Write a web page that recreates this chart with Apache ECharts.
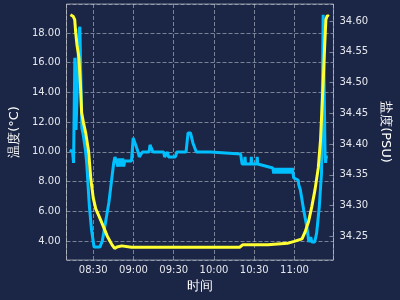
<!DOCTYPE html>
<html><head><meta charset="utf-8">
<script src="https://cdn.jsdelivr.net/npm/echarts@6/dist/echarts.min.js"></script>
<style>html,body{margin:0;padding:0;background:#1b2646;}#c{width:400px;height:300px;}</style>
</head><body><div id="c"></div>
<script>
const tempTimes = ['08:13:01','08:14:58','08:16:12','08:16:56','08:17:52','08:19:20','08:20:25','08:21:22','08:22:44','08:24:25','08:26:35','08:28:16','08:30:00','08:31:53','08:34:13','08:36:45','08:40:23','08:44:01','08:45:58','08:47:38','08:51:16','08:58:32','09:20:19','09:49:22','10:19:08','10:21:19','10:40:11','10:54:42','10:59:47','11:05:35','11:07:59','11:10:28','11:12:52','11:15:15','11:17:43','11:19:23','11:21:21','11:22:31','11:23:23','11:24:28','11:25:34'];
const tempValues = [19.23,19.13,18.90,18.02,17.21,16.34,14.65,12.63,11.96,11.26,10.00,8.12,6.90,6.16,5.69,5.15,4.34,3.74,3.50,3.60,3.67,3.58,3.58,3.58,3.58,3.74,3.74,3.84,3.97,4.14,4.63,5.31,6.30,7.44,8.92,10.81,14.65,17.21,18.90,19.17,19.10];
const salTimes = ['08:12:34','08:14:37','08:15:20','08:15:50','08:16:17','08:16:47','08:17:09','08:18:14','08:19:28','08:20:03','08:20:38','08:21:31','08:22:35','08:24:11','08:25:08','08:27:06','08:28:46','08:30:35','08:34:56','08:36:45','08:41:37','08:45:15','08:46:11',
 '08:47:38','08:48:22','08:49:05','08:49:49','08:50:33','08:51:16','08:52:00','08:52:44','08:53:27',
 '08:58:32','08:59:46','09:01:05','09:02:10','09:03:24','09:04:20','09:05:47','09:06:40','09:11:36','09:12:20','09:13:47','09:14:31','09:22:29','09:23:13','09:24:40','09:25:24','09:26:07','09:31:13','09:32:18','09:39:11','09:40:39','09:42:28','09:44:17','09:46:49','09:57:21','09:58:04','10:19:51','10:20:56','10:22:46','10:23:07','10:23:29','10:27:29','10:27:50','10:28:12','10:31:50','10:32:12','10:32:34',
 '10:43:49','10:44:32','10:45:16','10:45:59','10:46:43','10:47:27','10:48:10','10:48:54','10:49:37','10:50:21','10:51:05','10:51:48','10:52:32','10:53:15','10:53:59','10:54:43','10:55:26','10:56:10','10:56:53','10:57:37','10:58:21',
 '10:59:25','11:02:41','11:03:12','11:04:22','11:06:50','11:09:13','11:10:41','11:12:08','11:12:52','11:15:02','11:16:29','11:18:27','11:20:07','11:21:21','11:21:56','11:22:48','11:23:10','11:23:28','11:24:50'];
const salValues = [34.3904,34.3871,34.3692,34.3692,34.5402,34.5370,34.4230,34.4262,34.5858,34.5907,34.5207,34.4262,34.4148,34.3904,34.3692,34.2992,34.2601,34.2324,34.2324,34.2422,34.3041,34.3692,34.3790,
 34.3765,34.3635,34.3765,34.3635,34.3765,34.3635,34.3765,34.3635,34.3725,
 34.3725,34.4099,34.4067,34.3953,34.3871,34.3790,34.3790,34.3871,34.3871,34.3985,34.3985,34.3871,34.3871,34.3790,34.3790,34.3871,34.3790,34.3790,34.3871,34.3871,34.4181,34.4181,34.4018,34.3871,34.3871,34.3839,34.3839,34.3676,34.3676,34.3790,34.3676,34.3676,34.3790,34.3676,34.3676,34.3790,34.3676,
 34.3611,34.3521,34.3611,34.3521,34.3611,34.3521,34.3611,34.3521,34.3611,34.3521,34.3611,34.3521,34.3611,34.3521,34.3611,34.3521,34.3611,34.3521,34.3611,34.3521,34.3611,
 34.3448,34.3415,34.3334,34.3252,34.2927,34.2650,34.2406,34.2487,34.2406,34.2406,34.2552,34.2976,34.3529,34.6103,34.6103,34.3790,34.3692,34.3790,34.3790];
const xRange = ['08:10:06','11:29:02'];
const tempRange = [2.72, 19.95];
const salRange = [34.2114, 34.6277];

function toMin(s){const p=s.split(':').map(Number);return p[0]*60+p[1]+(p[2]||0)/60;}
function fmtHM(v){const h=Math.floor(v/60), m=Math.round(v-h*60);return String(h).padStart(2,'0')+':'+String(m).padStart(2,'0');}

const chart = echarts.init(document.getElementById('c'), null, {renderer:'canvas'});
const gridCol = 'rgba(200,205,215,0.55)';
const labelCol = '#e6e8ee';
chart.setOption({
  backgroundColor:'#1b2646',
  animation:false,
  textStyle:{fontFamily:'DejaVu Sans'},
  grid:{left:63,right:63,top:4,bottom:40,show:true,borderColor:'#8a8f9c',borderWidth:1,backgroundColor:'transparent'},
  xAxis:{type:'value',min:toMin(xRange[0]),max:toMin(xRange[1]),splitNumber:6,
    name:'时间',nameLocation:'middle',nameGap:20,nameTextStyle:{color:'#ffffff',fontSize:13},
    axisLine:{show:false},axisTick:{show:false},
    axisLabel:{color:labelCol,fontSize:10,margin:5,showMinLabel:false,showMaxLabel:false,formatter:fmtHM},
    splitLine:{show:true,lineStyle:{color:gridCol,type:'dashed',width:1}}},
  yAxis:[
    {type:'value',min:tempRange[0],max:tempRange[1],splitNumber:8,position:'left',
     name:'温度(°C)',nameLocation:'middle',nameGap:35,nameTextStyle:{color:'#ffffff',fontSize:13},
     axisLine:{show:false},axisTick:{show:false},
     axisLabel:{color:labelCol,fontSize:10,margin:6,showMinLabel:false,showMaxLabel:false,formatter:v=>v.toFixed(2)},
     splitLine:{show:true,lineStyle:{color:gridCol,type:'dashed',width:1}}},
    {type:'value',min:salRange[0],max:salRange[1],splitNumber:8,position:'right',
     name:'盐度(PSU)',nameLocation:'middle',nameGap:35,nameRotate:-90,nameTextStyle:{color:'#ffffff',fontSize:13},
     axisLine:{show:false},axisTick:{show:true,inside:true,length:5,lineStyle:{color:gridCol,type:'dashed'}},
     axisLabel:{color:labelCol,fontSize:10,margin:6,showMinLabel:false,showMaxLabel:false,formatter:v=>v.toFixed(2)},
     splitLine:{show:false}}
  ],
  series:[
    {type:'line',name:'盐度',yAxisIndex:1,showSymbol:false,symbol:'none',
     lineStyle:{color:'#00bfff',width:3},itemStyle:{color:'#00bfff'},
     data:salTimes.map((t,i)=>[toMin(t),salValues[i]])},
    {type:'line',name:'温度',yAxisIndex:0,showSymbol:false,symbol:'none',
     lineStyle:{color:'#ffff33',width:3},itemStyle:{color:'#ffff33'},
     data:tempTimes.map((t,i)=>[toMin(t),tempValues[i]])}
  ]
});
</script></body></html>
